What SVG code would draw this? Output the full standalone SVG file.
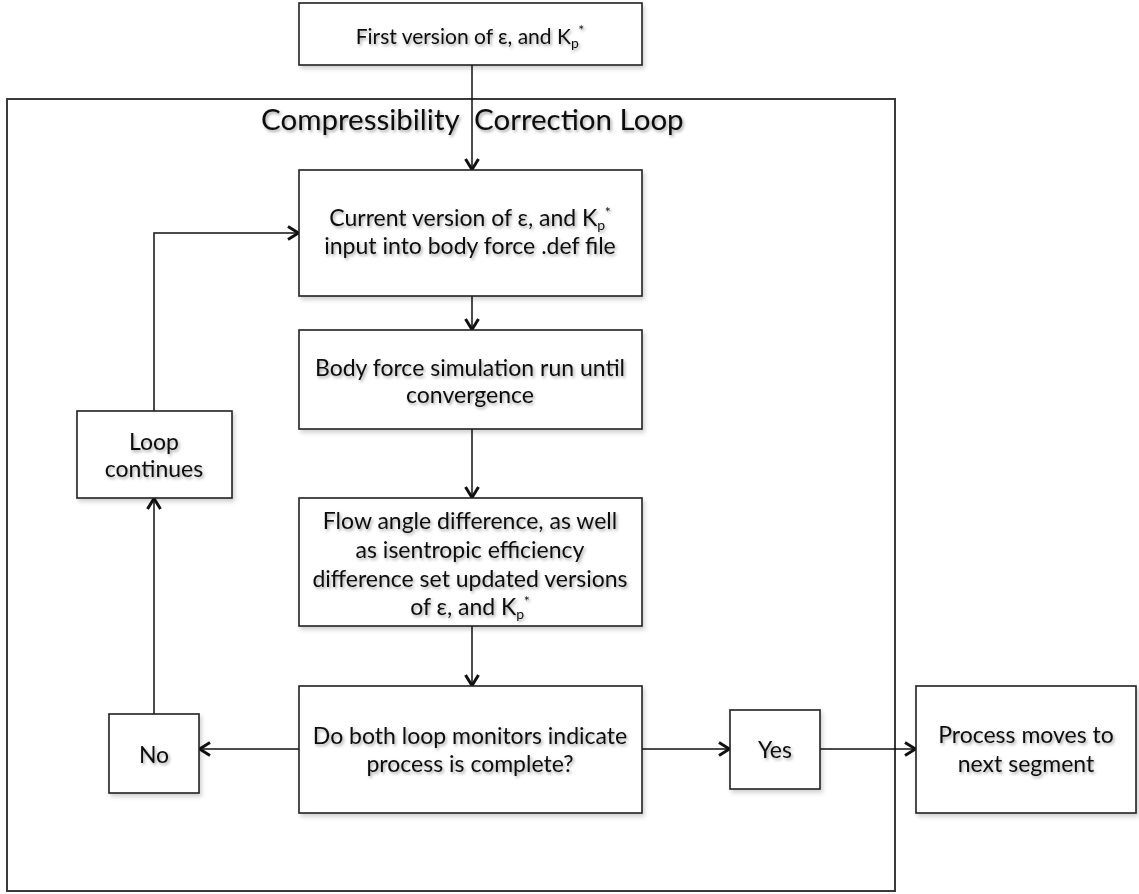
<svg xmlns="http://www.w3.org/2000/svg" width="1139" height="894" viewBox="0 0 1139 894">
  <style>
    .box { fill: #ffffff; stroke: #222222; stroke-width: 1.6; filter: url(#bshadow); }
    .frame { fill: none; stroke: #3a3a3a; stroke-width: 2; }
    .lbl { font-family: Lato, "Liberation Sans", sans-serif; font-size: 23px; fill: #111111; text-anchor: middle; filter: url(#tshadow); }
    .small { font-size: 21px; }
    .title { font-family: Lato, "Liberation Sans", sans-serif; font-size: 29.5px; fill: #111111; filter: url(#tshadow); }
    .sub { font-size: 14px; }
    .sup { font-size: 14px; }
    .conn { fill: none; stroke: #111111; stroke-width: 1.5; }
  </style>
  <defs>
    <filter id="bshadow" x="-10%" y="-10%" width="130%" height="130%">
      <feDropShadow dx="2" dy="3" stdDeviation="2" flood-color="#000" flood-opacity="0.18"/>
    </filter>
    <filter id="tshadow" x="-10%" y="-30%" width="130%" height="170%">
      <feDropShadow dx="1.5" dy="2" stdDeviation="1.5" flood-color="#000" flood-opacity="0.35"/>
    </filter>
    <marker id="arr" viewBox="0 0 14 16" refX="13" refY="8" markerWidth="14" markerHeight="16" markerUnits="userSpaceOnUse" orient="auto">
      <path d="M2,1.5 L12.5,8 L2,14.5" fill="none" stroke="#111111" stroke-width="3"/>
    </marker>
  </defs>

  <rect id="loop-frame" class="frame" x="7" y="99" width="888" height="792"/>

  <g id="connectors">
    <line class="conn" x1="472" y1="65" x2="472" y2="170" marker-end="url(#arr)"/>
    <line class="conn" x1="472" y1="296" x2="472" y2="330" marker-end="url(#arr)"/>
    <line class="conn" x1="472" y1="429" x2="472" y2="498" marker-end="url(#arr)"/>
    <line class="conn" x1="472" y1="626" x2="472" y2="686" marker-end="url(#arr)"/>
    <line class="conn" x1="299" y1="749" x2="199" y2="749" marker-end="url(#arr)"/>
    <line class="conn" x1="642" y1="749" x2="730" y2="749" marker-end="url(#arr)"/>
    <line class="conn" x1="820" y1="749" x2="916" y2="749" marker-end="url(#arr)"/>
    <line class="conn" x1="154" y1="714" x2="154" y2="498" marker-end="url(#arr)"/>
    <polyline class="conn" points="154,411 154,233 299,233" marker-end="url(#arr)"/>
  </g>

  <text id="loop-title" class="title" y="130"><tspan x="261">Compressibility</tspan><tspan x="474">Correction Loop</tspan></text>

  <g id="first-version">
    <rect class="box" x="299" y="3" width="343" height="62"/>
    <text class="lbl small" x="470" y="44">First version of ε, and K<tspan class="sub" dy="4">p</tspan><tspan class="sup" dy="-13">*</tspan></text>
  </g>

  <g id="current-version">
    <rect class="box" x="299" y="170" width="343" height="126"/>
    <text class="lbl" x="470" y="226">Current version of ε, and K<tspan class="sub" dy="4">p</tspan><tspan class="sup" dy="-13">*</tspan></text>
    <text class="lbl" x="470" y="254">input into body force .def file</text>
  </g>

  <g id="simulation">
    <rect class="box" x="299" y="330" width="343" height="99"/>
    <text class="lbl" x="470" y="376">Body force simulation run until</text>
    <text class="lbl" x="470" y="403">convergence</text>
  </g>

  <g id="flow-angle">
    <rect class="box" x="299" y="498" width="343" height="128"/>
    <text class="lbl" x="470" y="529">Flow angle difference, as well</text>
    <text class="lbl" x="470" y="558">as isentropic efficiency</text>
    <text class="lbl" x="470" y="587">difference set updated versions</text>
    <text class="lbl" x="470" y="615">of ε, and K<tspan class="sub" dy="4">p</tspan><tspan class="sup" dy="-13">*</tspan></text>
  </g>

  <g id="decision">
    <rect class="box" x="299" y="686" width="343" height="127"/>
    <text class="lbl" x="470" y="744">Do both loop monitors indicate</text>
    <text class="lbl" x="470" y="772">process is complete?</text>
  </g>

  <g id="loop-continues">
    <rect class="box" x="77" y="411" width="155" height="87"/>
    <text class="lbl" x="154" y="450">Loop</text>
    <text class="lbl" x="154" y="477">continues</text>
  </g>

  <g id="no">
    <rect class="box" x="109" y="714" width="90" height="79"/>
    <text class="lbl" x="154" y="763">No</text>
  </g>

  <g id="yes">
    <rect class="box" x="730" y="710" width="90" height="79"/>
    <text class="lbl" x="775" y="758">Yes</text>
  </g>

  <g id="next-segment">
    <rect class="box" x="916" y="686" width="220" height="127"/>
    <text class="lbl" x="1026" y="743">Process moves to</text>
    <text class="lbl" x="1026" y="772">next segment</text>
  </g>
</svg>
